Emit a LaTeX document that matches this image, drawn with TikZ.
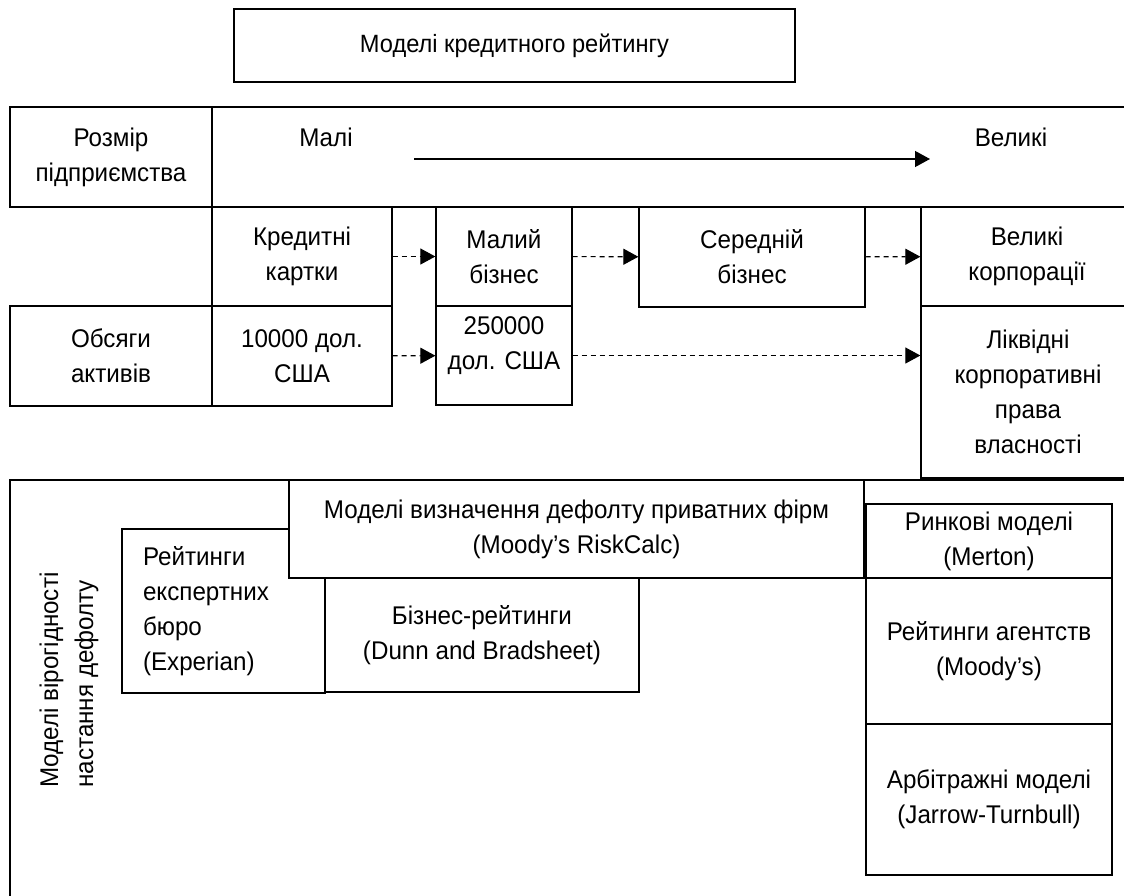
\documentclass[tikz,border=0pt]{standalone}
\usepackage{fontspec}
\setmainfont{Liberation Sans}[FakeStretch=0.945]
\usetikzlibrary{positioning, arrows.meta}

\tikzset{
  cell/.style={draw, rectangle, line width=1.3pt, inner sep=0pt, align=center, fill=white},
  dasharrow/.style={-{Triangle[length=15pt, width=16pt]}, dash pattern=on 5pt off 4pt, line width=1.1pt},
  fullarrow/.style={-{Triangle[length=15pt, width=16pt]}, line width=1.3pt},
}

\begin{document}
\begin{tikzpicture}[x=1pt, y=-1pt, font=\fontsize{25.6}{35}\selectfont]
    \useasboundingbox (0,0) rectangle (1124,895);
    \clip (0,0) rectangle (1124,895);
    % title
    \node[cell, minimum width=561, minimum height=73, font=\fontsize{25}{30}\selectfont] (title) at (514.5,45.5) {Моделі кредитного рейтингу};
    % table: size row
    \node[cell, minimum width=202, minimum height=100] (size) at (111,157) {Розмір\\підприємства};
    \node[cell, minimum width=928, minimum height=100] (scale) at (676,157) {};
    \node (small-lbl) at (326,137) {Малі};
    \node (big-lbl) at (1011,137) {Великі};
    \coordinate (s0) at (414,159);
    \coordinate (s1) at (930,159);
    \draw[fullarrow] (s0) -- (s1);
    % table: segments
    \node[cell, minimum width=180, minimum height=99] (card) at (302,256.5) {Кредитні\\картки};
    \node[cell, minimum width=136, minimum height=99] (small) at (504,256.5) {Малий\\бізнес};
    \node[cell, minimum width=226, minimum height=100] (mid) at (752,257) {Середній\\бізнес};
    \node[cell, minimum width=212, minimum height=99] (big) at (1027,256.5) {Великі\\корпорації};
    % table: assets
    \node[cell, minimum width=202, minimum height=100] (vol) at (111,356) {Обсяги\\активів};
    \node[cell, minimum width=180, minimum height=100] (usd1) at (302,356) {10000 дол.\\США};
    \node[cell, minimum width=136, minimum height=99, label={[align=center, yshift=10pt]center:250000\\дол. США}] (usd2) at (504,355.5) {};
    \node[cell, minimum width=214, minimum height=172] (liquid) at (1028,392) {Ліквідні\\корпоративні\\права\\власності};
    \draw[dasharrow] (card) -- (small);
    \draw[dasharrow] (small) -- (mid);
    \draw[dasharrow] (mid) -- (big);
    \draw[dasharrow] (usd1) -- (usd2);
    \draw[dasharrow] (usd2.east) -- (usd2.east -| liquid.west);
    % default models
    \node[cell, minimum width=1130, minimum height=430] (frame) at (575,695) {};
    \node[rotate=90, align=left] (prob) at (69,680) {Моделі вірогідності\\настання дефолту};
    \node[cell, minimum width=203, minimum height=164, text width=161, align=left] (expert) at (223.5,611) {Рейтинги\\експертних\\бюро\\(Experian)};
    \node[cell, minimum width=575, minimum height=98] (firms) at (576.5,529) {Моделі визначення дефолту приватних фірм\\(Moody’s RiskCalc)};
    \node[cell, minimum width=314, minimum height=114] (biz) at (482,635) {Бізнес-рейтинги\\(Dunn and Bradsheet)};
    \node[cell, minimum width=246, minimum height=74] (market) at (989,541) {Ринкові моделі\\(Merton)};
    \node[cell, minimum width=246, minimum height=146] (agency) at (989,651) {Рейтинги агентств\\(Moody’s)};
    \node[cell, minimum width=246, minimum height=151] (arb) at (989,799.5) {Арбітражні моделі\\(Jarrow-Turnbull)};
\end{tikzpicture}
\end{document}
